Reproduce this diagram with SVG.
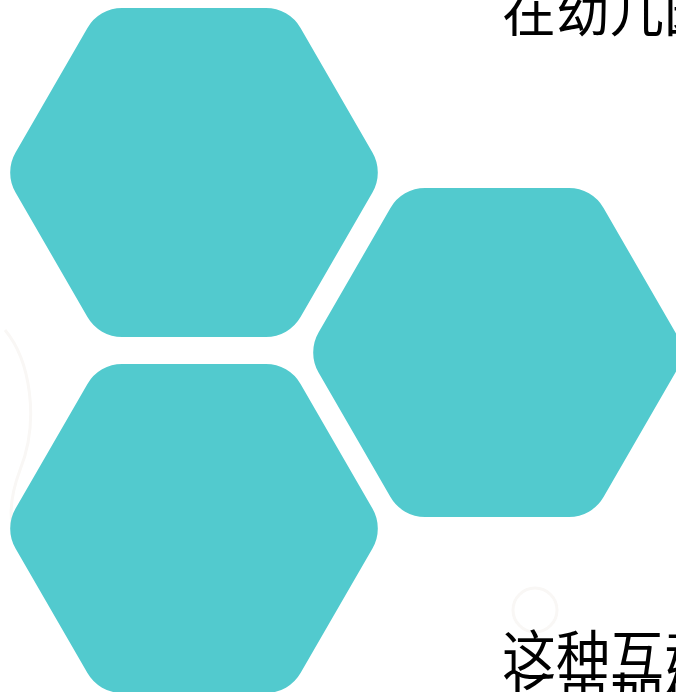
<svg xmlns="http://www.w3.org/2000/svg" width="676" height="692" viewBox="0 0 676 692" xmlns:xlink="http://www.w3.org/1999/xlink">
<style>
.hex{fill:#52CACE}
.txt{font-family:"Noto Sans CJK SC","Noto Sans CJK JP",serif;font-size:54px;fill:#000}
.faint{fill:none;stroke:#f9f7f5;stroke-width:3}
</style>
<defs>
<path id="hx" d="M -71.9,-164.5 L 71.9,-164.5 A 40 40 0 0 1 106.55,-144.5 L 178.45,-20 A 40 40 0 0 1 178.45,20 L 106.55,144.5 A 40 40 0 0 1 71.9,164.5 L -71.9,164.5 A 40 40 0 0 1 -106.55,144.5 L -178.45,20 A 40 40 0 0 1 -178.45,-20 L -106.55,-144.5 A 40 40 0 0 1 -71.9,-164.5 Z"/>
</defs>
<rect width="676" height="692" fill="#ffffff"/>
<g id="background">
<path class="faint" d="M 5,330 C 30,360 40,420 20,470 C 5,510 10,540 30,560"/>
<circle class="faint" cx="535" cy="610" r="22"/>
</g>
<g id="hex-top-left"><use xlink:href="#hx" href="#hx" class="hex" transform="translate(194,172.5)"/></g>
<g id="hex-right"><use xlink:href="#hx" href="#hx" class="hex" transform="translate(497,352.5)"/></g>
<g id="hex-bottom-left"><use xlink:href="#hx" href="#hx" class="hex" transform="translate(194,528.5)"/></g>
<g id="text-top"><text class="txt" x="502" y="32">在幼儿园</text></g>
<g id="text-bottom">
<text class="txt" x="502" y="676">这种互动</text>
<text class="txt" x="502" y="718">长更加健</text>
</g>
</svg>
